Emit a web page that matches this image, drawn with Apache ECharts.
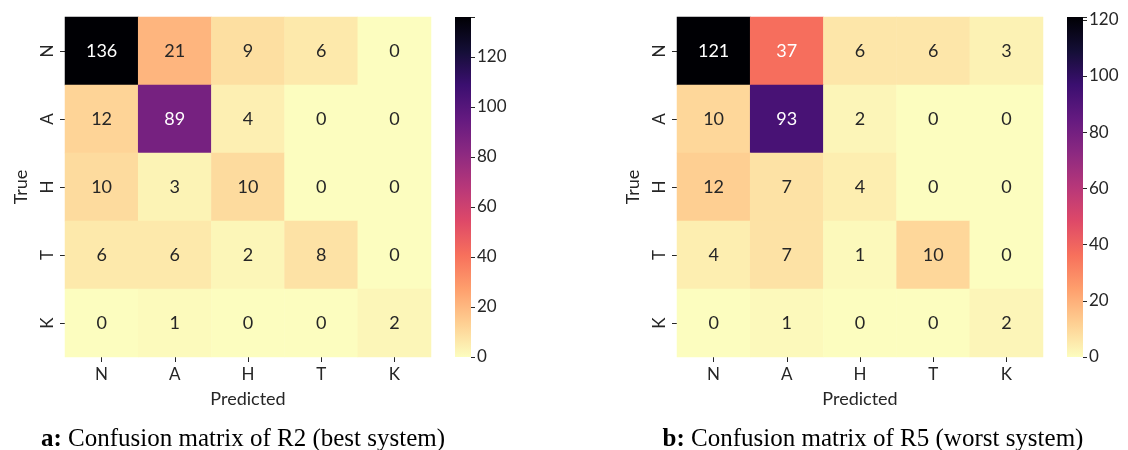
<!DOCTYPE html>
<html>
<head>
<meta charset="utf-8">
<script src="https://cdn.jsdelivr.net/npm/echarts@6/dist/echarts.min.js"></script>
<style>
html,body{margin:0;padding:0;background:#fff;}
#chart{width:1128px;height:450px;}
</style>
</head>
<body>
<div id="chart"></div>
<script>
// ---- data ----
var classes = ['N', 'A', 'H', 'T', 'K'];
// rows = true class, columns = predicted class
var matrixR2 = [
  [136, 21, 9, 6, 0],
  [12, 89, 4, 0, 0],
  [10, 3, 10, 0, 0],
  [6, 6, 2, 8, 0],
  [0, 1, 0, 0, 2]
];
var matrixR5 = [
  [121, 37, 6, 6, 3],
  [10, 93, 2, 0, 0],
  [12, 7, 4, 0, 0],
  [4, 7, 1, 10, 0],
  [0, 1, 0, 0, 2]
];
var colorbarTicks = [0, 20, 40, 60, 80, 100, 120];
var captionA = 'Confusion matrix of R2 (best system)';
var captionB = 'Confusion matrix of R5 (worst system)';

// ---- styling ----
var magmaR = ['#fcfdbf', '#fecf92', '#fe9f6d', '#f7705c', '#de4968', '#b73779',
              '#8c2981', '#641a80', '#3b0f70', '#140e36', '#000004'];
var font = 'Lato, "DejaVu Sans", sans-serif';
var serif = '"Liberation Serif", serif';
var textColor = '#262626';

function toData(m) {
  var out = [];
  for (var r = 0; r < m.length; r++)
    for (var c = 0; c < m[r].length; c++)
      out.push([c, r, m[r][c]]);
  return out;
}
function maxOf(m) { return Math.max.apply(null, m.map(function (r) { return Math.max.apply(null, r); })); }

var maxA = maxOf(matrixR2), maxB = maxOf(matrixR5);

function gradient() {
  var stops = [];
  for (var i = 0; i < magmaR.length; i++)
    stops.push({ offset: 1 - i / (magmaR.length - 1), color: magmaR[i] });
  return new echarts.graphic.LinearGradient(0, 0, 0, 1, stops);
}

function heatXAxis(gi) {
  return {
    type: 'category', data: classes, gridIndex: gi, position: 'bottom',
    name: 'Predicted', nameLocation: 'middle', nameGap: 33,
    nameTextStyle: { fontFamily: font, fontSize: 18, color: textColor },
    axisLine: { show: false },
    axisTick: { show: true, alignWithLabel: true, length: 5, lineStyle: { color: textColor } },
    axisLabel: { fontFamily: font, fontSize: 17, color: textColor, margin: 9 },
    splitLine: { show: false }, splitArea: { show: false }
  };
}
function heatYAxis(gi) {
  return {
    type: 'category', data: classes, gridIndex: gi, inverse: true,
    name: 'True', nameLocation: 'middle', nameGap: 35, nameRotate: 90,
    nameTextStyle: { fontFamily: font, fontSize: 18, color: textColor },
    axisLine: { show: false },
    axisTick: { show: true, alignWithLabel: true, length: 5, lineStyle: { color: textColor } },
    axisLabel: { fontFamily: font, fontSize: 17, color: textColor, rotate: 90, margin: 9 },
    splitLine: { show: false }, splitArea: { show: false }
  };
}
function cbXAxis(gi) {
  return { type: 'category', data: ['c'], gridIndex: gi, show: false };
}
function cbYAxis(gi, max) {
  return {
    type: 'value', gridIndex: gi, min: 0, max: max, interval: 20, position: 'right',
    axisLine: { show: false },
    axisTick: { show: true, length: 4, lineStyle: { color: textColor } },
    axisLabel: { fontFamily: font, fontSize: 17, color: textColor, margin: 6,
      formatter: function (v) { return colorbarTicks.indexOf(v) >= 0 ? String(v) : ''; } },
    splitLine: { show: false }
  };
}
function heatSeries(gi, m, max) {
  return {
    type: 'heatmap', xAxisIndex: gi, yAxisIndex: gi, data: toData(m),
    label: {
      show: true, fontFamily: font, fontSize: 18,
      formatter: function (p) { return String(p.value[2]); },
      color: textColor
    },
    itemStyle: { borderWidth: 0 },
    emphasis: { disabled: true }
  };
}
function labelColored(series, max) {
  series.data = series.data.map(function (d) {
    return { value: d, label: { color: d[2] / max > 0.25 ? '#ffffff' : textColor } };
  });
  return series;
}
function cbSeries(gi, max) {
  return {
    type: 'bar', xAxisIndex: gi, yAxisIndex: gi, data: [max], barWidth: '100%',
    itemStyle: { color: gradient() }, silent: true
  };
}
function caption(letter, text, x) {
  return {
    text: '{b|' + letter + ':} ' + text, left: x, top: 422, textAlign: 'center',
    textStyle: { fontFamily: serif, fontSize: 25, fontWeight: 'normal', color: '#000',
      rich: { b: { fontFamily: serif, fontSize: 25, fontWeight: 'bold', color: '#000' } } }
  };
}

var option = {
  backgroundColor: '#ffffff',
  animation: false,
  title: [caption('a', captionA, 238), caption('b', captionB, 868)],
  grid: [
    { left: 65, top: 17, width: 366, height: 340 },
    { left: 455, top: 17, width: 16, height: 340 },
    { left: 677, top: 17, width: 366, height: 340 },
    { left: 1067, top: 17, width: 16, height: 340 }
  ],
  xAxis: [heatXAxis(0), cbXAxis(1), heatXAxis(2), cbXAxis(3)],
  yAxis: [heatYAxis(0), cbYAxis(1, maxA), heatYAxis(2), cbYAxis(3, maxB)],
  visualMap: [
    { type: 'continuous', show: false, min: 0, max: maxA, seriesIndex: 0, inRange: { color: magmaR } },
    { type: 'continuous', show: false, min: 0, max: maxB, seriesIndex: 2, inRange: { color: magmaR } }
  ],
  series: [
    labelColored(heatSeries(0, matrixR2, maxA), maxA),
    cbSeries(1, maxA),
    labelColored(heatSeries(2, matrixR5, maxB), maxB),
    cbSeries(3, maxB)
  ]
};

var chart = echarts.init(document.getElementById('chart'), null, { renderer: 'canvas' });
chart.setOption(option);
</script>
</body>
</html>
